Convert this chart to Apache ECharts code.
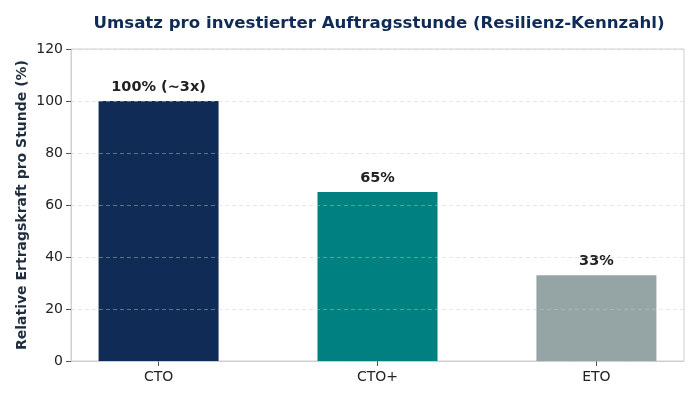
<!DOCTYPE html>
<html>
<head>
<meta charset="utf-8">
<script src="https://cdn.jsdelivr.net/npm/echarts@6/dist/echarts.min.js"></script>
<style>
  html, body { margin: 0; padding: 0; background: #fff; }
  #main { width: 700px; height: 400px; }
</style>
</head>
<body>
<div id="main"></div>
<script>
var categories = ['CTO', 'CTO+', 'ETO'];
var values = [100, 65, 33];
var barLabels = ['100% (~3x)', '65%', '33%'];
var barColors = ['#0f2b56', '#008080', '#95a5a6'];

var positions = categories.map(function (c, i) { return i; });

var chart = echarts.init(document.getElementById('main'));
var font = 'DejaVu Sans';

chart.setOption({
  animation: false,
  textStyle: { fontFamily: font },
  title: {
    text: 'Umsatz pro investierter Auftragsstunde (Resilienz-Kennzahl)',
    left: 374,
    textAlign: 'center',
    top: 10,
    textStyle: { fontFamily: font, fontSize: 16.6, fontWeight: 'bold', color: '#0f2b56' }
  },
  grid: {
    left: 71, right: 16, top: 49, bottom: 39,
    show: true, borderColor: '#d0d0d0', borderWidth: 1
  },
  xAxis: {
    type: 'value',
    min: -0.4,
    max: 2.4,
    axisLine: { show: true, onZero: false, lineStyle: { color: '#d0d0d0' } },
    axisTick: { show: true, customValues: positions, length: 5, lineStyle: { color: '#555' } },
    axisLabel: {
      customValues: positions,
      formatter: function (v) { return categories[Math.round(v)]; },
      fontSize: 14, color: '#222', margin: 9, fontFamily: font
    },
    splitLine: { show: false }
  },
  yAxis: {
    type: 'value',
    min: 0,
    max: 120,
    interval: 20,
    z: 5,
    name: 'Relative Ertragskraft pro Stunde (%)',
    nameLocation: 'middle',
    nameGap: 42,
    nameMoveOverlap: false,
    nameTextStyle: { fontFamily: font, fontSize: 14, fontWeight: 'bold', color: '#1f2d3d' },
    axisLine: { show: true, onZero: false, lineStyle: { color: '#d0d0d0' } },
    axisTick: { show: true, length: 5, lineStyle: { color: '#555' } },
    axisLabel: { fontSize: 14, color: '#222', margin: 8, fontFamily: font },
    splitLine: { show: true, lineStyle: { color: 'rgba(200,200,200,0.45)', type: [4, 3], width: 1 } }
  },
  series: [{
    type: 'bar',
    barWidth: 120,
    z: 2,
    data: values.map(function (v, i) {
      return { value: [positions[i], v], itemStyle: { color: barColors[i] } };
    }),
    label: {
      show: true,
      position: 'top',
      distance: 6,
      formatter: function (p) { return barLabels[p.dataIndex]; },
      fontFamily: font, fontSize: 14.5, fontWeight: 'bold', color: '#222'
    }
  }]
});
</script>
</body>
</html>
